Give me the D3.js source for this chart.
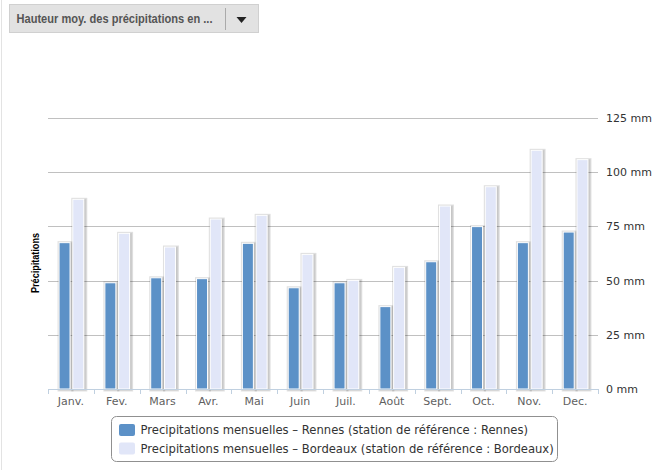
<!DOCTYPE html>
<html><head><meta charset="utf-8">
<script src="https://cdn.jsdelivr.net/npm/d3@7"></script>
<style>body{margin:0;background:#fff;}svg{display:block;}</style>
</head><body>
<script>
const categories = ["Janv.","Fev.","Mars","Avr.","Mai","Juin","Juil.","Août","Sept.","Oct.","Nov.","Dec."];
const rennes   = [67.5, 49.0, 51.3, 50.9, 67.2, 46.7, 49.0, 38.0, 58.7, 74.9, 67.5, 72.4];
const bordeaux = [87.5, 71.8, 65.5, 78.4, 80.1, 62.1, 50.1, 56.1, 84.4, 93.3, 110.1, 105.8];
const seriesNames = ["Precipitations mensuelles – Rennes (station de référence : Rennes)",
                     "Precipitations mensuelles – Bordeaux (station de référence : Bordeaux)"];
const seriesColors = ["#5C91C7", "#E1E6F8"];
const yTicks = [0, 25, 50, 75, 100, 125];

const W = 655, H = 470;
const svg = d3.select("body").append("svg").attr("width", W).attr("height", H);
const font = "'DejaVu Sans', Verdana, sans-serif";

// left border line
svg.append("line").attr("x1",1.5).attr("x2",1.5).attr("y1",0).attr("y2",H).attr("stroke","#e3e3e3");

// dropdown box
svg.append("rect").attr("x",9.5).attr("y",4.5).attr("width",249).attr("height",28)
  .attr("fill","#e2e2e2").attr("stroke","#d0d0d0");
svg.append("text").attr("x",16.5).attr("y",23).attr("font-family","'Liberation Sans', Arial, sans-serif")
  .attr("font-weight","bold").attr("font-size",12).attr("fill","#555")
  .attr("textLength",196).attr("lengthAdjust","spacingAndGlyphs")
  .text("Hauteur moy. des précipitations en ...");
svg.append("line").attr("x1",225.5).attr("x2",225.5).attr("y1",8).attr("y2",30).attr("stroke","#aaa");
svg.append("path").attr("d","M236.5,17 L246.5,17 L241.5,23 Z").attr("fill","#222");

const margin = {left:48, right:598, top:118, bottom:389};
const x = d3.scaleBand().domain(categories).range([margin.left, margin.right]).padding(0);
const x1 = d3.scaleBand().domain([0,1])
  .range([0.2*x.bandwidth(), 0.8*x.bandwidth()]).paddingInner(0.2).paddingOuter(0.1);
const y = d3.scaleLinear().domain([0,125]).range([margin.bottom, margin.top]);

// grid
svg.append("g").selectAll("line").data(yTicks.filter(d=>d>0)).join("line")
  .attr("x1",margin.left).attr("x2",margin.right)
  .attr("y1",d=>Math.round(y(d))+0.5).attr("y2",d=>Math.round(y(d))+0.5)
  .attr("stroke","#c0c0c0");

// y axis on right
const yAxis = d3.axisRight(y).tickValues(yTicks).tickSize(0).tickPadding(8).tickFormat(d=>d+" mm");
const gy = svg.append("g").attr("transform",`translate(${margin.right},0)`).call(yAxis);
gy.select(".domain").remove();
gy.selectAll("text").attr("font-family",font).attr("font-size",11).attr("fill","#333")
  .attr("dy","0.32em");

// bars
const data = categories.map((c,i)=>({c, vals:[rennes[i], bordeaux[i]]}));
const groups = svg.append("g").selectAll("g").data(data).join("g")
  .attr("transform",d=>`translate(${x(d.c)},0)`);
const bars = groups.selectAll("g").data(d=>d.vals.map((v,s)=>({v,s}))).join("g");
// shadow
[3,2,1].forEach(k=>{
  bars.append("rect")
    .attr("x",d=>x1(d.s)+0.5+1).attr("y",d=>y(d.v)+1)
    .attr("width",x1.bandwidth()).attr("height",d=>y(0)-y(d.v)-1)
    .attr("fill","none").attr("stroke","#000").attr("stroke-opacity",0.04*k).attr("stroke-width",k*2-1);
});
bars.append("rect")
  .attr("x",d=>x1(d.s)+0.5).attr("y",d=>y(d.v))
  .attr("width",x1.bandwidth()).attr("height",d=>y(0)-y(d.v))
  .attr("fill",d=>seriesColors[d.s]).attr("stroke","#fff").attr("stroke-width",1);

// x axis
const xAxis = d3.axisBottom(x).tickSize(0).tickPadding(8);
const gx = svg.append("g").attr("transform",`translate(0,${margin.bottom})`).call(xAxis);
gx.select(".domain").remove();
gx.selectAll("text").attr("font-family",font).attr("font-size",11).attr("fill","#5f5f5f");
svg.append("line").attr("x1",margin.left).attr("x2",margin.right)
  .attr("y1",margin.bottom+0.5).attr("y2",margin.bottom+0.5).attr("stroke","#C0D0E0");
const bounds = categories.map(c=>x(c)).concat([margin.right]);
svg.append("g").selectAll("line").data(bounds).join("line")
  .attr("x1",d=>Math.round(d)+0.5).attr("x2",d=>Math.round(d)+0.5)
  .attr("y1",margin.bottom).attr("y2",margin.bottom+5).attr("stroke","#C0D0E0");

// y title
svg.append("text").attr("transform",`translate(39,263) rotate(-90)`)
  .attr("text-anchor","middle").attr("font-family","'Liberation Sans', Arial, sans-serif")
  .attr("font-weight","bold").attr("font-size",11).attr("fill","#000")
  .attr("textLength",60).attr("lengthAdjust","spacingAndGlyphs").text("Précipitations");

// legend
const lg = svg.append("g");
lg.append("rect").attr("x",111.5).attr("y",416.5).attr("width",446).attr("height",45)
  .attr("rx",5).attr("fill","#fff").attr("stroke","#909090");
const items = lg.selectAll("g").data(seriesNames).join("g")
  .attr("transform",(d,i)=>`translate(119,${424+i*18.5})`);
items.append("rect").attr("width",16).attr("height",12).attr("rx",2).attr("fill",(d,i)=>seriesColors[i]);
items.append("text").attr("x",21.5).attr("y",10).attr("font-family",font).attr("font-size",11.6)
  .attr("fill","#333").text(d=>d);
</script>
</body></html>
